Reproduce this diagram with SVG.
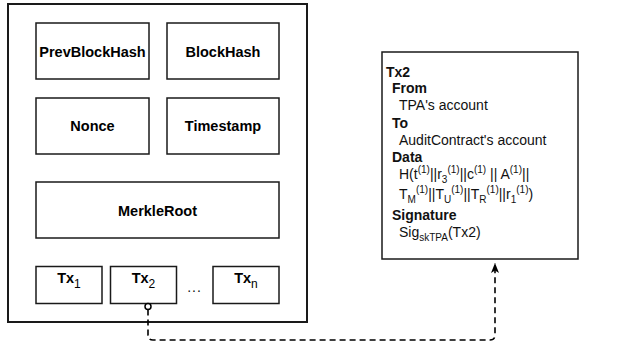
<svg xmlns="http://www.w3.org/2000/svg" width="622" height="343" viewBox="0 0 622 343">
<style>
.box{fill:#fff;stroke:#1a1a1a;stroke-width:1.5}
.outer{fill:#fff;stroke:#1a1a1a;stroke-width:2}
.lbl{font-family:"Liberation Sans",Arial,sans-serif;font-size:14.5px;font-weight:bold;fill:#000;text-anchor:middle}
.sub{font-size:12px;font-weight:normal}
.t{font-family:"Liberation Sans",Arial,sans-serif;font-size:14px;fill:#111}
.b{font-weight:bold}
.s{font-size:10px}
.conn{fill:none;stroke:#000;stroke-width:1.6;stroke-dasharray:6 4}
</style>
<defs>
<marker id="arr" viewBox="0 0 10 8" refX="10" refY="4" markerWidth="10" markerHeight="8" markerUnits="userSpaceOnUse" orient="auto">
<path d="M0,0 L10,4 L0,8 L2.5,4 Z" fill="#000"/>
</marker>
</defs>
<g id="block">
<rect class="outer" x="8" y="4" width="299" height="318"/>
</g>
<g id="prevblockhash"><rect class="box" x="36" y="23" width="113" height="56"/><text class="lbl" x="92.5" y="56.5">PrevBlockHash</text></g>
<g id="blockhash"><rect class="box" x="167" y="23" width="112" height="56"/><text class="lbl" x="223" y="56.5">BlockHash</text></g>
<g id="nonce"><rect class="box" x="36" y="98" width="113" height="56"/><text class="lbl" x="92.5" y="131">Nonce</text></g>
<g id="timestamp"><rect class="box" x="167" y="98" width="112" height="56"/><text class="lbl" x="223" y="131">Timestamp</text></g>
<g id="merkleroot"><rect class="box" x="36" y="182" width="243" height="56"/><text class="lbl" x="157.5" y="215.5">MerkleRoot</text></g>
<g id="tx1"><rect class="box" x="36" y="266.5" width="66" height="37"/><text class="lbl" x="69" y="283">Tx<tspan class="sub" dy="5">1</tspan></text></g>
<g id="tx2"><rect class="box" x="110.5" y="266.5" width="66" height="37"/><text class="lbl" x="143.5" y="283">Tx<tspan class="sub" dy="5">2</tspan></text></g>
<g id="dots"><text class="t" x="194.5" y="292" text-anchor="middle" font-size="15" letter-spacing="1">...</text></g>
<g id="txn"><rect class="box" x="213" y="266.5" width="66" height="37"/><text class="lbl" x="246" y="283">Tx<tspan class="sub" dy="5">n</tspan></text></g>
<g id="tx2detail">
<rect class="box" x="382" y="52" width="196" height="207"/>
<text class="t b" x="386" y="76.5">Tx2</text>
<text class="t b" x="392" y="93">From</text>
<text class="t" x="399" y="110">TPA's account</text>
<text class="t b" x="392" y="127.5">To</text>
<text class="t" x="399" y="144.5">AuditContract's account</text>
<text class="t b" x="392" y="161.5">Data</text>
<text class="t" x="399" y="179">H(t<tspan class="s" dy="-6">(1)</tspan><tspan dy="6">||r</tspan><tspan class="s" dy="4">3</tspan><tspan class="s" dy="-10">(1)</tspan><tspan dy="6">||c</tspan><tspan class="s" dy="-6">(1)</tspan><tspan dy="6"> || A</tspan><tspan class="s" dy="-6">(1)</tspan><tspan dy="6">||</tspan></text>
<text class="t" x="399" y="199">T<tspan class="s" dy="4">M</tspan><tspan class="s" dy="-10">(1)</tspan><tspan dy="6">||T</tspan><tspan class="s" dy="4">U</tspan><tspan class="s" dy="-10">(1)</tspan><tspan dy="6">||T</tspan><tspan class="s" dy="4">R</tspan><tspan class="s" dy="-10">(1)</tspan><tspan dy="6">||r</tspan><tspan class="s" dy="4">1</tspan><tspan class="s" dy="-10">(1)</tspan><tspan dy="6">)</tspan></text>
<text class="t b" x="392" y="220">Signature</text>
<text class="t" x="399" y="237">Sig<tspan class="s" dy="4">skTPA</tspan><tspan dy="-4">(Tx2)</tspan></text>
</g>
<g id="connectors">
<circle cx="148" cy="306.5" r="3" fill="#fff" stroke="#000" stroke-width="1.5"/>
<path class="conn" d="M148,309.5 V335 Q148,340 153,340 H490 Q495,340 495,335 V263" marker-end="url(#arr)"/>
</g>
</svg>
